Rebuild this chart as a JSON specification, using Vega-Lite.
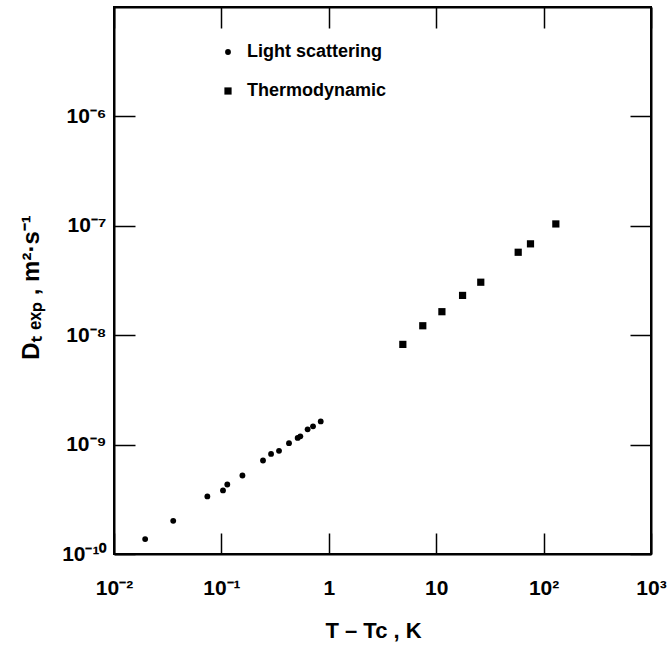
{
  "$schema": "https://vega.github.io/schema/vega-lite/v6.json",
  "autosize": {"type": "none"},
  "padding": {"left": 114, "top": 7, "right": 17, "bottom": 95},
  "width": 537,
  "height": 547,
  "background": "white",
  "config": {
    "view": {"stroke": "black", "strokeWidth": 2},
    "font": "Liberation Sans"
  },
  "data": {
    "values": [
      {"series": "Light scattering", "dT": 0.0195, "D": 1.37e-10},
      {"series": "Light scattering", "dT": 0.0356, "D": 2.01e-10},
      {"series": "Light scattering", "dT": 0.074, "D": 3.36e-10},
      {"series": "Light scattering", "dT": 0.1035, "D": 3.81e-10},
      {"series": "Light scattering", "dT": 0.1135, "D": 4.32e-10},
      {"series": "Light scattering", "dT": 0.157, "D": 5.22e-10},
      {"series": "Light scattering", "dT": 0.244, "D": 7.16e-10},
      {"series": "Light scattering", "dT": 0.29, "D": 8.22e-10},
      {"series": "Light scattering", "dT": 0.344, "D": 8.77e-10},
      {"series": "Light scattering", "dT": 0.426, "D": 1.03e-9},
      {"series": "Light scattering", "dT": 0.513, "D": 1.15e-9},
      {"series": "Light scattering", "dT": 0.543, "D": 1.19e-9},
      {"series": "Light scattering", "dT": 0.635, "D": 1.38e-9},
      {"series": "Light scattering", "dT": 0.713, "D": 1.47e-9},
      {"series": "Light scattering", "dT": 0.841, "D": 1.63e-9},
      {"series": "Thermodynamic", "dT": 4.89, "D": 8.24e-9},
      {"series": "Thermodynamic", "dT": 7.5, "D": 1.22e-8},
      {"series": "Thermodynamic", "dT": 11.3, "D": 1.64e-8},
      {"series": "Thermodynamic", "dT": 17.6, "D": 2.31e-8},
      {"series": "Thermodynamic", "dT": 26.0, "D": 3.05e-8},
      {"series": "Thermodynamic", "dT": 58.0, "D": 5.73e-8},
      {"series": "Thermodynamic", "dT": 75.5, "D": 6.84e-8},
      {"series": "Thermodynamic", "dT": 130, "D": 1.04e-7}
    ]
  },
  "layer": [
    {
      "mark": {"type": "point", "filled": true, "color": "black", "opacity": 1},
      "encoding": {
        "x": {
          "field": "dT", "type": "quantitative",
          "scale": {"type": "log", "domain": [0.01, 1000], "nice": false},
          "axis": {
            "orient": "bottom",
            "values": [0.01, 0.1, 1, 10, 100, 1000],
            "labelExpr": "['10\u207B\u00B2','10\u207B\u00B9','1','10','10\u00B2','10\u00B3'][round(log(datum.value)/LN10)+2]",
            "grid": false,
            "tickSize": -21,
            "tickWidth": 1.5,
            "tickColor": "black",
            "domainColor": "black",
            "domainWidth": 2,
            "labelPadding": 44,
            "labelFont": "Liberation Sans",
            "labelFontWeight": "bold",
            "labelFontSize": 21,
            "labelColor": "black",
            "labelFlush": false,
            "labelOverlap": false,
            "labelBaseline": "top",
            "title": "T \u2013 Tc , K",
            "titleFont": "Liberation Sans",
            "titleFontWeight": "bold",
            "titleFontSize": 22,
            "titleColor": "black",
            "titleX": 259,
            "titleY": 83,
            "titleBaseline": "alphabetic",
            "titleAlign": "center"
          }
        },
        "y": {
          "field": "D", "type": "quantitative",
          "scale": {"type": "log", "domain": [1e-10, 1e-5], "nice": false},
          "axis": {
            "orient": "left",
            "values": [1e-10, 1e-9, 1e-8, 1e-7, 1e-6],
            "labelExpr": "'10' + ['\u207B\u00B9\u2070','\u207B\u2079','\u207B\u2078','\u207B\u2077','\u207B\u2076'][round(log(datum.value)/LN10)+10]",
            "grid": false,
            "tickSize": -21,
            "tickWidth": 1.5,
            "tickColor": "black",
            "domainColor": "black",
            "domainWidth": 2,
            "labelPadding": 29,
            "labelFont": "Liberation Sans",
            "labelFontWeight": "bold",
            "labelFontSize": 21,
            "labelColor": "black",
            "labelFlush": false,
            "labelOverlap": false,
            "title": "D\u209C \u2091\u2093\u209A , m\u00B2\u00B7s\u207B\u00B9",
            "titleFont": "Liberation Sans",
            "titleFontWeight": "bold",
            "titleFontSize": 24,
            "titleColor": "black",
            "titleX": -83,
            "titleY": 280,
            "titleAngle": -90,
            "titleAlign": "center",
            "titleBaseline": "middle"
          }
        },
        "shape": {
          "field": "series", "type": "nominal",
          "scale": {"domain": ["Light scattering", "Thermodynamic"], "range": ["circle", "square"]},
          "legend": {
            "orient": "none",
            "legendX": 105,
            "legendY": 36,
            "title": null,
            "padding": 0,
            "rowPadding": 21,
            "labelOffset": 10,
            "labelFont": "Liberation Sans",
            "labelFontWeight": "bold",
            "labelFontSize": 18,
            "labelColor": "black",
            "labelLimit": 300,
            "symbolFillColor": "black",
            "symbolStrokeColor": "black",
            "symbolStrokeWidth": 0
          }
        },
        "size": {
          "field": "series", "type": "nominal",
          "scale": {"domain": ["Light scattering", "Thermodynamic"], "range": [34, 52]}
        }
      }
    },
    {
      "mark": {"type": "point", "opacity": 0},
      "encoding": {
        "x": {
          "field": "dT", "type": "quantitative",
          "scale": {"type": "log", "domain": [0.01, 1000], "nice": false},
          "axis": {
            "orient": "top",
            "values": [0.01, 0.1, 1, 10, 100, 1000],
            "labels": false,
            "grid": false,
            "tickSize": -21,
            "tickWidth": 1.5,
            "tickColor": "black",
            "domainColor": "black",
            "domainWidth": 2,
            "title": null
          }
        },
        "y": {
          "field": "D", "type": "quantitative",
          "scale": {"type": "log", "domain": [1e-10, 1e-5], "nice": false},
          "axis": {
            "orient": "right",
            "values": [1e-10, 1e-9, 1e-8, 1e-7, 1e-6],
            "labels": false,
            "grid": false,
            "tickSize": -21,
            "tickWidth": 1.5,
            "tickColor": "black",
            "domainColor": "black",
            "domainWidth": 2,
            "title": null
          }
        }
      }
    }
  ],
  "resolve": {"axis": {"x": "independent", "y": "independent"}}
}
